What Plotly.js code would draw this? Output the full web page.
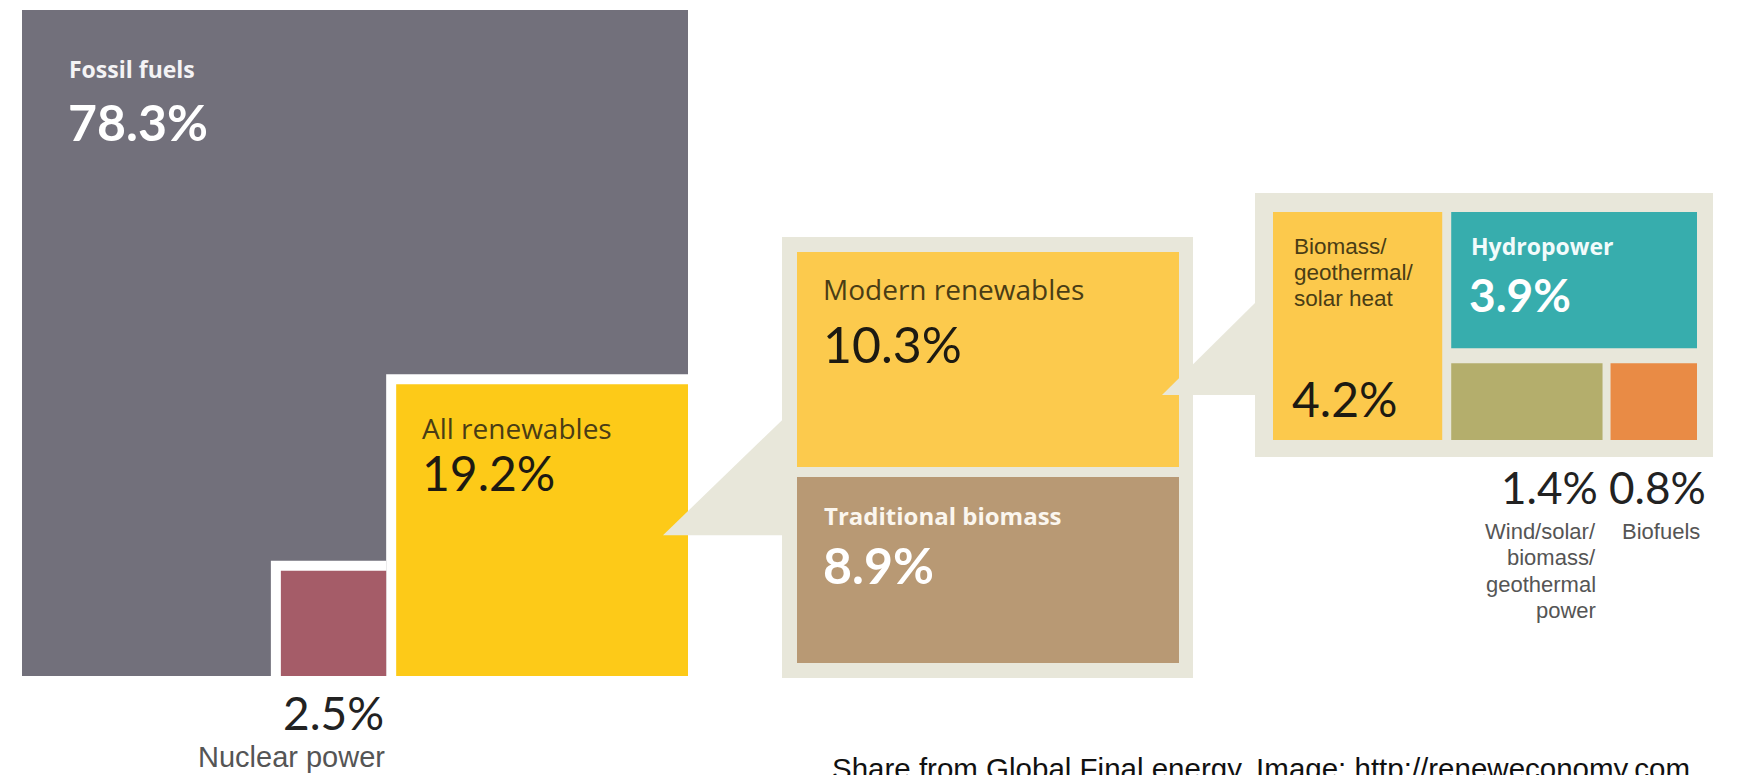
<!DOCTYPE html>
<html><head><meta charset="utf-8">
<script src="https://cdn.plot.ly/plotly-3.0.1.min.js"></script>
<style>html,body{margin:0;padding:0;background:#fff;overflow:hidden}#chart{width:1740px;height:775px}</style>
</head><body><div id="chart"></div>
<script>
// ---------------- data (shares of global final energy, %) ----------------
const topLabels = ['Fossil fuels', 'All renewables', 'Nuclear power'];
const topShares = [78.3, 19.2, 2.5];
const renewableLabels = ['Modern renewables', 'Traditional biomass'];
const renewableShares = [10.3, 8.9];
const modernLabels = ['Biomass/<br>geothermal/<br>solar heat', 'Hydropower', 'Wind/solar/<br>biomass/<br>geothermal<br>power', 'Biofuels'];
const modernShares = [4.2, 3.9, 1.4, 0.8];
const sourceNote = 'Share from Global Final energy. Image: http://reneweconomy.com';

// ---------------- layout / style settings ----------------
const W = 1740, H = 775;
const MAIN = {x0: 22, y0: 10, side: 666, gap: 10};
const P1 = {x0: 782, y0: 237, x1: 1193, y1: 678, pad: 15, gap: 10};
const P2 = {x0: 1255, y0: 193, x1: 1713, y1: 457, padX: 18, padY: 19, gap: 9};
const C = {
  fossil: '#72707b', nuclear: '#a55c68', allRen: '#fdca18', beige: '#e8e7da',
  modern: '#fcca4d', trad: '#b89974', heat: '#fcc94c', hydro: '#37adad',
  wind: '#b4ae6c', biofuel: '#e98b45', white: '#ffffff'
};
const LABEL_FONT = '"Open Sans", Lato, sans-serif';
const NUM_FONT = 'Lato, "Open Sans", sans-serif';
const SMALL_FONT = '"Liberation Sans", Arial, sans-serif';
const DARK = '#4a3d15', NUM_DARK = '#1d1a12', GREY = '#555555';
const pct = v => v.toFixed(1) + '%';

const traces = [];
function rect(x0, y0, x1, y1, color) {
  traces.push({type: 'scatter', mode: 'lines', x: [x0, x1, x1, x0, x0], y: [y0, y0, y1, y1, y0],
    fill: 'toself', fillcolor: color, line: {width: 0, color: color}, hoverinfo: 'skip', showlegend: false});
}
function poly(xs, ys, color) {
  traces.push({type: 'scatter', mode: 'lines', x: xs.concat([xs[0]]), y: ys.concat([ys[0]]),
    fill: 'toself', fillcolor: color, line: {width: 0, color: color}, hoverinfo: 'skip', showlegend: false});
}
const ann = [];
function txt(x, y, text, size, color, opts) {
  const o = opts || {};
  ann.push({xref: 'x', yref: 'y', x: x, y: y, text: text, showarrow: false,
    xanchor: o.xanchor || 'left', yanchor: 'middle', align: o.xanchor === 'right' ? 'right' : 'left',
    font: {family: o.family || LABEL_FONT, size: size, color: color, weight: o.weight || 400}});
}
// multi-line label, one line per annotation at a fixed pitch
function block(x, yFirst, text, size, color, step, opts) {
  text.split('<br>').forEach((ln, i) => txt(x, yFirst + i * step, ln, size, color, opts));
}

// ---------- level 1: the whole (100%) as one square ----------
const total = topShares.reduce((a, b) => a + b, 0);
const S = MAIN.side;
const mx1 = MAIN.x0 + S, my1 = MAIN.y0 + S;
const renSide = S * Math.sqrt(topShares[1] / total);
const nucSide = S * Math.sqrt(topShares[2] / total);
const ren = {x0: mx1 - renSide, y0: my1 - renSide, x1: mx1, y1: my1};
const nuc = {x0: ren.x0 - MAIN.gap - nucSide, y0: my1 - nucSide, x1: ren.x0 - MAIN.gap, y1: my1};

rect(MAIN.x0, MAIN.y0, mx1, my1, C.fossil);
rect(ren.x0 - MAIN.gap, ren.y0 - MAIN.gap, mx1, my1, C.white);
rect(nuc.x0 - MAIN.gap, nuc.y0 - MAIN.gap, nuc.x1, my1, C.white);
rect(ren.x0, ren.y0, ren.x1, ren.y1, C.allRen);
rect(nuc.x0, nuc.y0, nuc.x1, nuc.y1, C.nuclear);

txt(MAIN.x0 + 45, MAIN.y0 + 59, topLabels[0], 23, '#f4f3f5', {weight: 700});
txt(MAIN.x0 + 44, MAIN.y0 + 112, pct(topShares[0]), 50, '#ffffff', {family: NUM_FONT, weight: 700});
txt(ren.x0 + 24, ren.y0 + 44, topLabels[1], 28, DARK);
txt(ren.x0 + 24, ren.y0 + 88, pct(topShares[1]), 48, NUM_DARK, {family: NUM_FONT});
txt(nuc.x1, my1 + 36, pct(topShares[2]), 46, '#222222', {xanchor: 'right', family: NUM_FONT});
txt(nuc.x1 + 1, my1 + 81, topLabels[2], 29, GREY, {xanchor: 'right', family: SMALL_FONT});

// ---------- callout wedge 1 + panel 1 (all renewables split) ----------
poly([ren.x1 - 25, P1.x0, P1.x0], [ren.y0 + 151, ren.y0 + 36, ren.y0 + 151], C.beige);
rect(P1.x0, P1.y0, P1.x1, P1.y1, C.beige);
const i1 = {x0: P1.x0 + P1.pad, y0: P1.y0 + P1.pad, x1: P1.x1 - P1.pad + 1, y1: P1.y1 - P1.pad};
const rSum = renewableShares.reduce((a, b) => a + b, 0);
const hAvail = (i1.y1 - i1.y0) - P1.gap;
const modH = hAvail * renewableShares[0] / rSum;
const mod = {x0: i1.x0, y0: i1.y0, x1: i1.x1, y1: i1.y0 + modH};
const trad = {x0: i1.x0, y0: mod.y1 + P1.gap, x1: i1.x1, y1: i1.y1};
rect(mod.x0, mod.y0, mod.x1, mod.y1, C.modern);
rect(trad.x0, trad.y0, trad.x1, trad.y1, C.trad);
txt(mod.x0 + 24, mod.y0 + 37, renewableLabels[0], 28, DARK);
txt(mod.x0 + 24, mod.y0 + 92, pct(renewableShares[0]), 50, NUM_DARK, {family: NUM_FONT});
txt(trad.x0 + 25, trad.y0 + 38, renewableLabels[1], 24, '#fbf6ee', {weight: 700});
txt(trad.x0 + 24, trad.y0 + 88, pct(renewableShares[1]), 50, '#ffffff', {family: NUM_FONT, weight: 700});

// ---------- callout wedge 2 + panel 2 (modern renewables split) ----------
poly([mod.x1 - 17, P2.x0, P2.x0], [mod.y0 + 143, mod.y0 + 51, mod.y0 + 143], C.beige);
rect(P2.x0, P2.y0, P2.x1, P2.y1, C.beige);
const i2 = {x0: P2.x0 + P2.padX, y0: P2.y0 + P2.padY, x1: P2.x1 - P2.padX + 2, y1: P2.y1 - 17};
const mSum = modernShares.reduce((a, b) => a + b, 0);
const wAvail = (i2.x1 - i2.x0) - P2.gap;
const heatW = wAvail * modernShares[0] / mSum;
const heat = {x0: i2.x0, y0: i2.y0, x1: i2.x0 + heatW, y1: i2.y1};
const rc = {x0: heat.x1 + P2.gap, x1: i2.x1};
const restSum = modernShares[1] + modernShares[2] + modernShares[3];
const vAvail = (i2.y1 - i2.y0) - 15;
const hydroH = vAvail * modernShares[1] / restSum;
const hydro = {x0: rc.x0, y0: i2.y0, x1: rc.x1, y1: i2.y0 + hydroH};
const rowY0 = hydro.y1 + 15;
const rowAvail = (rc.x1 - rc.x0) - 8;
const windW = rowAvail * modernShares[2] / (modernShares[2] + modernShares[3]);
const wind = {x0: rc.x0, y0: rowY0, x1: rc.x0 + windW, y1: i2.y1};
const bio = {x0: wind.x1 + 8, y0: rowY0, x1: rc.x1, y1: i2.y1};
rect(heat.x0, heat.y0, heat.x1, heat.y1, C.heat);
rect(hydro.x0, hydro.y0, hydro.x1, hydro.y1, C.hydro);
rect(wind.x0, wind.y0, wind.x1, wind.y1, C.wind);
rect(bio.x0, bio.y0, bio.x1, bio.y1, C.biofuel);

block(heat.x0 + 19, heat.y0 + 34, modernLabels[0], 22.5, DARK, 26, {family: SMALL_FONT});
txt(heat.x0 + 17, heat.y1 - 42, pct(modernShares[0]), 48, NUM_DARK, {family: NUM_FONT});
txt(hydro.x0 + 18, hydro.y0 + 34, modernLabels[1], 23, '#f2fbfb', {weight: 700});
txt(hydro.x0 + 16, hydro.y0 + 82, pct(modernShares[1]), 46, '#ffffff', {family: NUM_FONT, weight: 700});
txt(wind.x1 - 3, P2.y1 + 30, pct(modernShares[2]), 44, '#222222', {xanchor: 'right', family: NUM_FONT});
txt(bio.x0 - 4, P2.y1 + 30, pct(modernShares[3]), 44, '#222222', {family: NUM_FONT});
block(wind.x1 - 5, P2.y1 + 74, modernLabels[2], 22, GREY, 26.5, {xanchor: 'right', family: SMALL_FONT});
txt(bio.x0 + 9, P2.y1 + 74, modernLabels[3], 22, GREY, {family: SMALL_FONT});

// ---------- source note ----------
ann.push({xref: 'x', yref: 'y', x: 830, y: 768, text: sourceNote, showarrow: false, xanchor: 'left', yanchor: 'middle',
  font: {family: '"Liberation Sans", Arial, sans-serif', size: 29.5, color: '#111111'}});

const layout = {
  width: W, height: H, margin: {l: 0, r: 0, t: 0, b: 0},
  paper_bgcolor: '#ffffff', plot_bgcolor: '#ffffff', showlegend: false,
  xaxis: {range: [0, W], visible: false, fixedrange: true},
  yaxis: {range: [H, 0], visible: false, fixedrange: true},
  annotations: ann
};
Plotly.newPlot('chart', traces, layout, {staticPlot: true, displayModeBar: false});
</script></body></html>
